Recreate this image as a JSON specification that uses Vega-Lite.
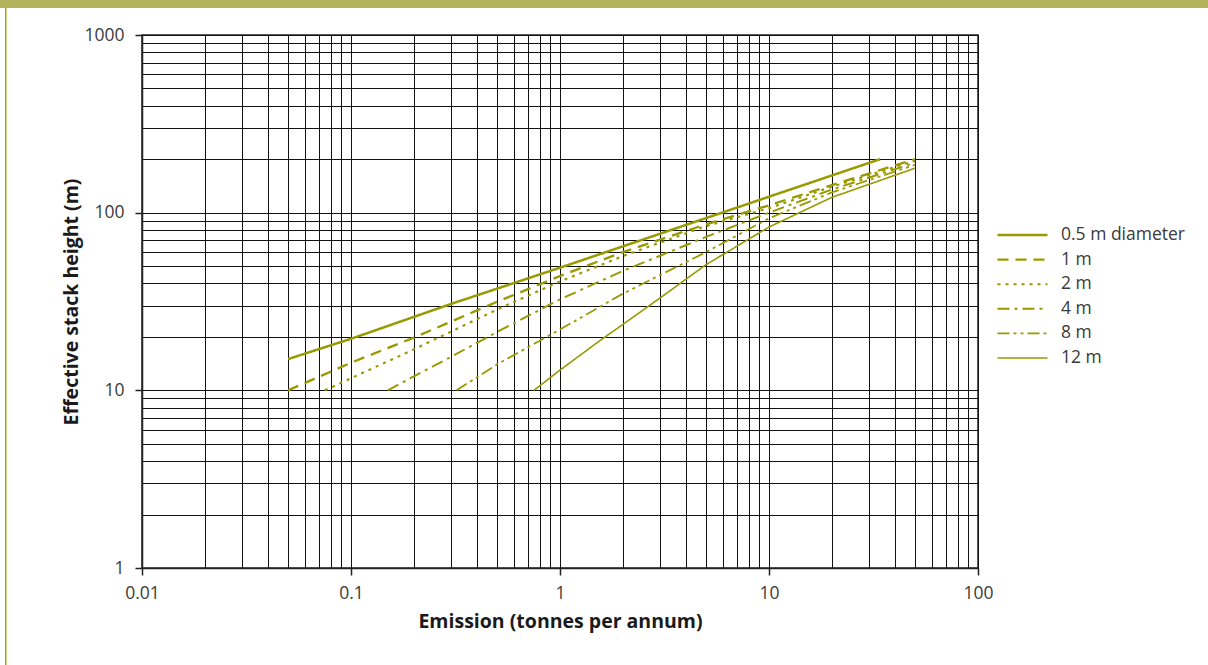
{
  "$schema": "https://vega.github.io/schema/vega-lite/v6.json",
  "padding": 0,
  "background": "white",
  "bounds": "flush",
  "spacing": 0,
  "config": {"view": {"stroke": null}, "concat": {"spacing": 0}, "font": "Open Sans"},
  "vconcat": [
    {"width": 1208, "height": 8, "view": {"fill": "#b3b35b", "stroke": null}, "data": {"values": []}, "mark": "point"},
    {
      "bounds": "flush",
      "spacing": 0,
      "hconcat": [
        {"width": 5, "height": 657, "data": {"values": []}, "mark": "point"},
        {"width": 1.5, "height": 657, "view": {"fill": "#a6a600", "stroke": null}, "data": {"values": []}, "mark": "point"},
        {"width": 134.5, "height": 1, "data": {"values": []}, "mark": "point"},
        {
          "bounds": "flush",
          "spacing": 0,
          "vconcat": [
            {"width": 836, "height": 27, "data": {"values": []}, "mark": "point"},
            {
              "width": 836,
              "height": 533,
              "view": {"stroke": "#222", "strokeWidth": 1.5},
              "data": {"values": [
                {"series": "0.5 m diameter", "x": 0.05, "y": 15},
                {"series": "0.5 m diameter", "x": 0.1, "y": 19.5},
                {"series": "0.5 m diameter", "x": 0.3, "y": 30.6},
                {"series": "0.5 m diameter", "x": 1, "y": 49},
                {"series": "0.5 m diameter", "x": 3, "y": 76},
                {"series": "0.5 m diameter", "x": 10, "y": 123},
                {"series": "0.5 m diameter", "x": 34, "y": 200},
                {"series": "1 m", "x": 0.05, "y": 10},
                {"series": "1 m", "x": 0.1, "y": 14.3},
                {"series": "1 m", "x": 0.2, "y": 19.8},
                {"series": "1 m", "x": 0.5, "y": 31.5},
                {"series": "1 m", "x": 1, "y": 44},
                {"series": "1 m", "x": 2, "y": 60},
                {"series": "1 m", "x": 5, "y": 86},
                {"series": "1 m", "x": 10, "y": 110},
                {"series": "1 m", "x": 20, "y": 143},
                {"series": "1 m", "x": 50, "y": 200},
                {"series": "2 m", "x": 0.075, "y": 10},
                {"series": "2 m", "x": 0.1, "y": 11.7},
                {"series": "2 m", "x": 0.2, "y": 17},
                {"series": "2 m", "x": 0.5, "y": 28.5},
                {"series": "2 m", "x": 1, "y": 41},
                {"series": "2 m", "x": 2, "y": 57},
                {"series": "2 m", "x": 5, "y": 84},
                {"series": "2 m", "x": 10, "y": 106},
                {"series": "2 m", "x": 20, "y": 140},
                {"series": "2 m", "x": 50, "y": 196},
                {"series": "4 m", "x": 0.15, "y": 10},
                {"series": "4 m", "x": 0.2, "y": 12},
                {"series": "4 m", "x": 0.3, "y": 15.4},
                {"series": "4 m", "x": 0.5, "y": 21.3},
                {"series": "4 m", "x": 1, "y": 32.5},
                {"series": "4 m", "x": 2, "y": 47},
                {"series": "4 m", "x": 5, "y": 73},
                {"series": "4 m", "x": 10, "y": 100},
                {"series": "4 m", "x": 20, "y": 135},
                {"series": "4 m", "x": 50, "y": 191},
                {"series": "8 m", "x": 0.32, "y": 10},
                {"series": "8 m", "x": 0.5, "y": 14},
                {"series": "8 m", "x": 1, "y": 22},
                {"series": "8 m", "x": 2, "y": 35},
                {"series": "8 m", "x": 5, "y": 60},
                {"series": "8 m", "x": 10, "y": 93},
                {"series": "8 m", "x": 20, "y": 130},
                {"series": "8 m", "x": 50, "y": 186},
                {"series": "12 m", "x": 0.75, "y": 10},
                {"series": "12 m", "x": 1, "y": 13},
                {"series": "12 m", "x": 1.5, "y": 18.5},
                {"series": "12 m", "x": 2, "y": 23.5},
                {"series": "12 m", "x": 3, "y": 33},
                {"series": "12 m", "x": 5, "y": 51},
                {"series": "12 m", "x": 10, "y": 83},
                {"series": "12 m", "x": 20, "y": 122},
                {"series": "12 m", "x": 50, "y": 178}
              ]},
              "mark": {"type": "line", "color": "#999900", "clip": true},
              "encoding": {
                "x": {
                  "field": "x", "type": "quantitative",
                  "scale": {"type": "log", "domain": [0.01, 100], "nice": false},
                  "axis": {
                    "values": [0.01,0.02,0.03,0.04,0.05,0.06,0.07,0.08,0.09,0.1,0.2,0.3,0.4,0.5,0.6,0.7,0.8,0.9,1,2,3,4,5,6,7,8,9,10,20,30,40,50,60,70,80,90,100],
                    "format": "~g",
                    "labelExpr": "indexof([0.01,0.1,1,10,100], datum.value) >= 0 ? datum.label : ''",
                    "tickOpacity": {"condition": {"test": "indexof([0.01,0.1,1,10,100], datum.value) >= 0", "value": 1}, "value": 0},
                    "tickSize": 7, "tickColor": "#222", "tickWidth": 1.5,
                    "grid": true, "gridColor": "#111", "gridWidth": 1,
                    "domainColor": "#222", "domainWidth": 1.5,
                    "labelFontSize": 17.5, "labelColor": "#3a3a3a", "labelPadding": 9,
                    "labelFlush": false, "labelOverlap": false,
                    "title": "Emission (tonnes per annum)",
                    "titleFontSize": 19.5, "titleFontWeight": "bold", "titleColor": "#1a1a1a", "titlePadding": 11
                  }
                },
                "y": {
                  "field": "y", "type": "quantitative",
                  "scale": {"type": "log", "domain": [1, 1000], "nice": false},
                  "axis": {
                    "values": [1,2,3,4,5,6,7,8,9,10,20,30,40,50,60,70,80,90,100,200,300,400,500,600,700,800,900,1000],
                    "format": "~g",
                    "labelExpr": "indexof([1,10,100,1000], datum.value) >= 0 ? datum.label : ''",
                    "tickOpacity": {"condition": {"test": "indexof([1,10,100,1000], datum.value) >= 0", "value": 1}, "value": 0},
                    "tickSize": 7, "tickColor": "#222", "tickWidth": 1.5,
                    "grid": true, "gridColor": "#111", "gridWidth": 1,
                    "domainColor": "#222", "domainWidth": 1.5,
                    "labelFontSize": 17.5, "labelColor": "#3a3a3a", "labelPadding": 11,
                    "labelFlush": false, "labelOverlap": false,
                    "title": "Effective stack height (m)",
                    "titleFontSize": 19.5, "titleFontWeight": "bold", "titleColor": "#1a1a1a", "titlePadding": 2
                  }
                },
                "strokeDash": {
                  "field": "series", "type": "nominal",
                  "scale": {
                    "domain": ["0.5 m diameter", "1 m", "2 m", "4 m", "8 m", "12 m"],
                    "range": [[1, 0], [11, 7], [3, 5], [12, 5, 3, 5], [12, 4, 3, 4, 3, 4], [1, 0]]
                  },
                  "legend": {
                    "orient": "none", "legendX": 996, "legendY": 225,
                    "title": null, "padding": 0,
                    "symbolType": "stroke", "symbolSize": 2500, "symbolStrokeWidth": 2,
                    "symbolStrokeColor": "#999900",
                    "labelFontSize": 17.5, "labelColor": "#3a3a3a", "labelOffset": 12,
                    "clipHeight": 20, "rowPadding": 4.6
                  }
                },
                "strokeWidth": {
                  "field": "series", "type": "nominal",
                  "scale": {
                    "domain": ["0.5 m diameter", "1 m", "2 m", "4 m", "8 m", "12 m"],
                    "range": [2.5, 1.6, 1.6, 1.6, 1.6, 1.6]
                  },
                  "legend": null
                }
              }
            }
          ]
        }
      ]
    }
  ]
}
